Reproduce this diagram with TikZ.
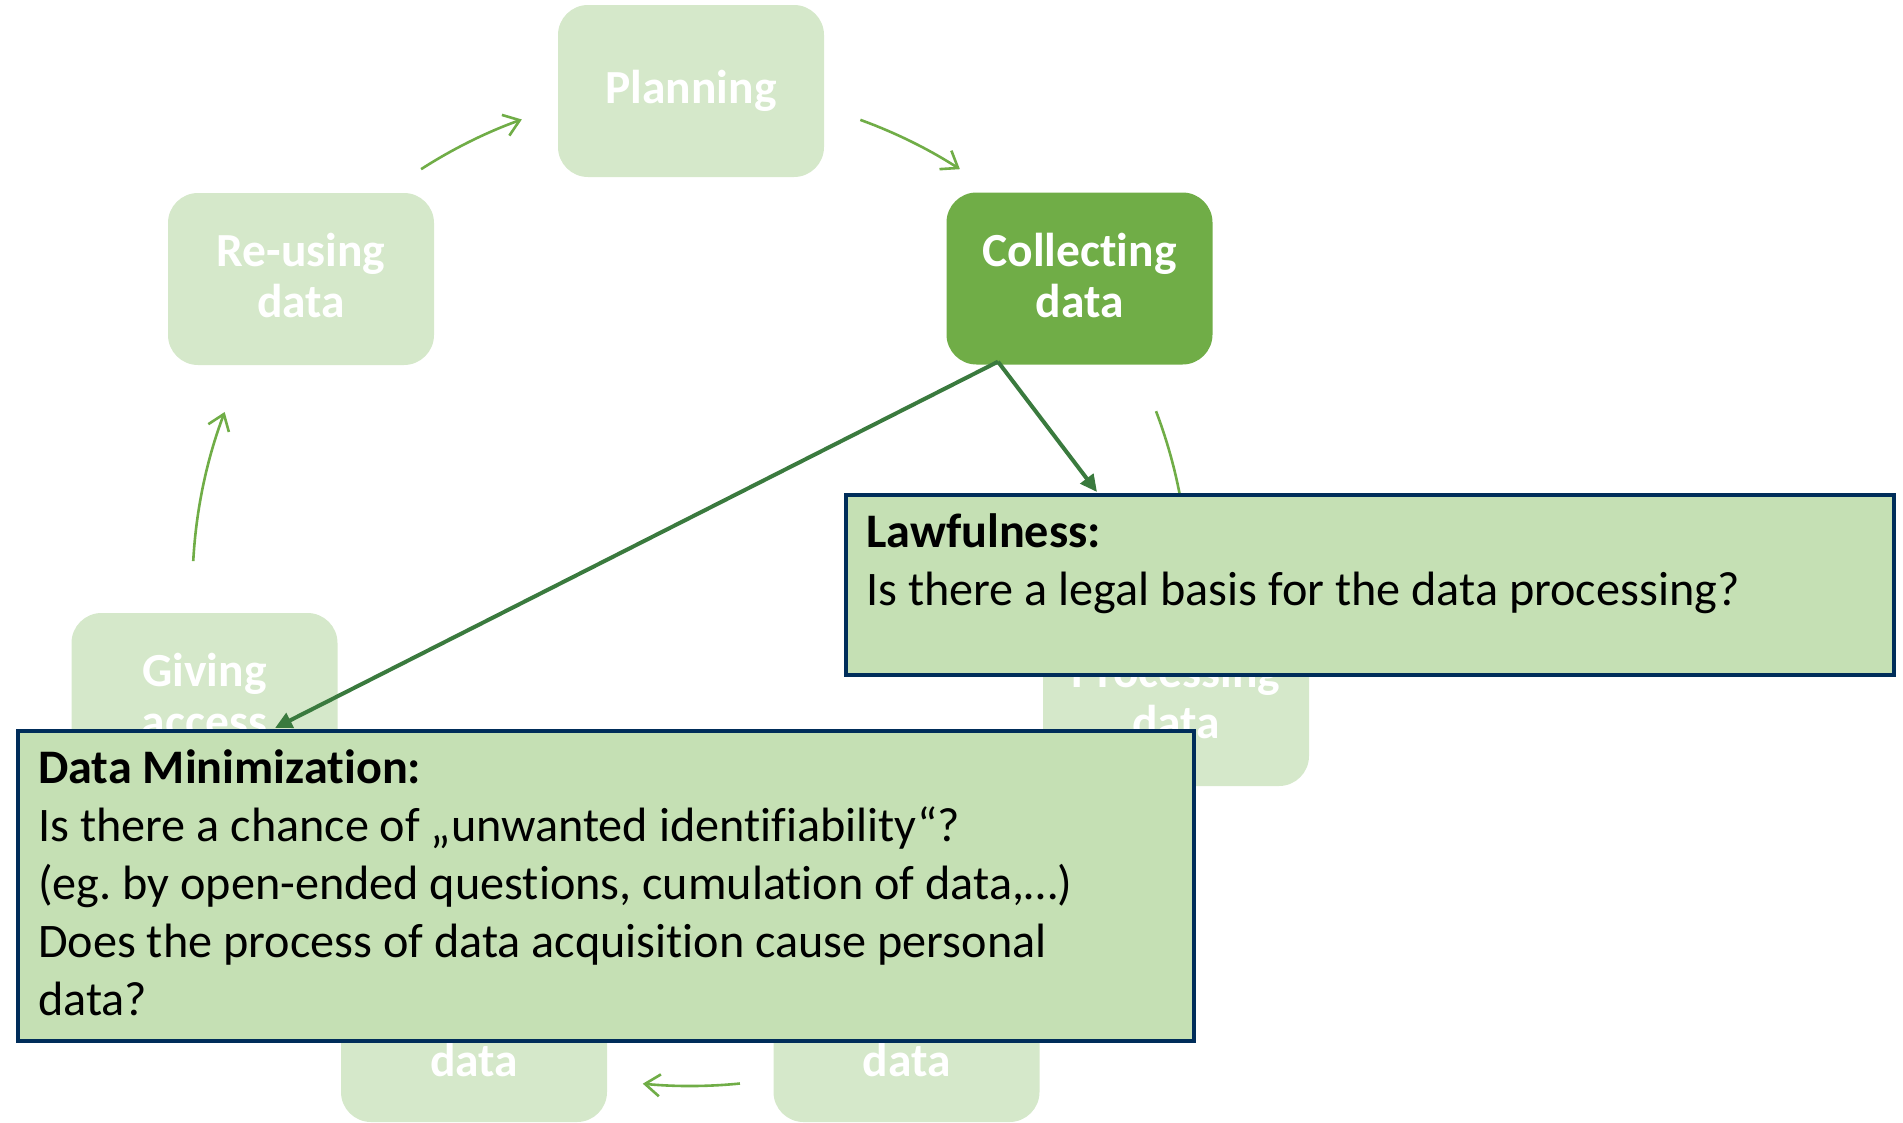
\documentclass[tikz,border=0pt]{standalone}
\usepackage{fontspec}
\setmainfont{Carlito}[Ligatures={NoCommon}]
\usetikzlibrary{arrows.meta,calc}
\frenchspacing

\definecolor{phasefill}{RGB}{213,232,202}
\definecolor{activefill}{RGB}{112,173,71}
\definecolor{cyclearrow}{RGB}{112,173,71}
\definecolor{notefill}{RGB}{197,224,180}
\definecolor{noteborder}{RGB}{0,45,90}
\definecolor{linkgreen}{RGB}{58,122,62}

\begin{document}
\begin{tikzpicture}[x=1pt,y=-1pt,
  phase/.style={rectangle, rounded corners=30pt, fill=phasefill,
    minimum width=266pt, minimum height=172pt, inner sep=0pt,
    text=white, font=\fontsize{47.5}{51}\selectfont\bfseries, align=center},
  twoline/.style={text depth=7pt},
  active/.style={phase, fill=activefill},
  phasetext/.style={inner sep=0pt, text=white,
    font=\fontsize{47.5}{51}\selectfont\bfseries},
  cyc/.style={draw=cyclearrow, line width=2.6pt,
    -{Straight Barb[length=15pt,width=22pt,line width=2.6pt]}},
  note/.style={rectangle, draw=noteborder, line width=3.5pt, fill=notefill,
    inner sep=0pt, anchor=north west},
  notehead/.style={inner sep=0pt, anchor=base west,
    font=\fontsize{48.2}{58}\selectfont\bfseries},
  notetext/.style={inner sep=0pt, anchor=base west,
    font=\fontsize{48.2}{58}\selectfont},
  link/.style={draw=linkgreen, line width=4pt,
    -{Triangle[length=17pt,width=16pt]}}
]
\useasboundingbox (0,0) rectangle (1903,1122);

% centre and radius of the lifecycle ring
\coordinate (ring) at (690.5,588);

% lifecycle phases
\node[phase]           (plan)     at (691,91)       {Planning};
\node[active, twoline] (collect)  at (1079.5,278.5) {Collecting\\data};
\node[phase, twoline]  (process)  at (1176,700)     {Processing\\data};
\node[phase]           (analyse)  at (906.5,1036)   {};
\node[phase]           (preserve) at (474,1036)     {};
\node[phase, twoline]  (access)   at (204.5,699)    {Giving\\access};
\node[phase, twoline]  (reuse)    at (301,279)      {Re-using\\data};
\node[phasetext, anchor=base] (analysetext)  at (906.5,1076) {data};
\node[phasetext, anchor=base] (preservetext) at (474,1076)   {data};

% arrows around the ring
\draw[cyc] (ring) ++(-122.75:498) arc[start angle=-122.75, end angle=-109.8, radius=498];
\draw[cyc] (ring) ++(-70.06:498)  arc[start angle=-70.06,  end angle=-57.25, radius=498];
\draw[cyc] (ring) ++(-20.8:498)   arc[start angle=-20.8,   end angle=-5.8,   radius=498];
\draw[cyc] (ring) ++(84.3:498)    arc[start angle=84.3,    end angle=95.5,   radius=498];
\draw[cyc] (ring) ++(183.1:498)   arc[start angle=183.1,   end angle=200.7,  radius=498];

% call-out boxes
\node[note, minimum width=1048pt, minimum height=180pt] (law) at (844,493) {};
\node[notehead] (lawhead) at (866,547) {Lawfulness:};
\node[notetext] (lawq)    at (866,605) {Is there a legal basis for the data processing?};

\node[note, minimum width=1176pt, minimum height=310pt] (dm) at (16,729) {};
\node[notehead] (dmhead) at (38,783)  {Data Minimization:};
\node[notetext] (dmq1)   at (38,841)  {Is there a chance of „unwanted identifiability“?};
\node[notetext] (dmq2)   at (38,899)  {(eg. by open-ended questions, cumulation of data,…)};
\node[notetext] (dmq3)   at (38,957)  {Does the process of data acquisition cause personal};
\node[notetext] (dmq4)   at (38,1015) {data?};

% links from the active phase to its call-outs
\coordinate (cstart) at ($(collect.south)+(-81.5,-3)$);
\coordinate (lawtip) at ($(law.north west)+(253,-1)$);
\coordinate (dmtip)  at ($(dm.north west)+(259,-1)$);
\draw[link] (cstart) -- (lawtip);
\draw[link] (cstart) -- (dmtip);
\end{tikzpicture}
\end{document}
